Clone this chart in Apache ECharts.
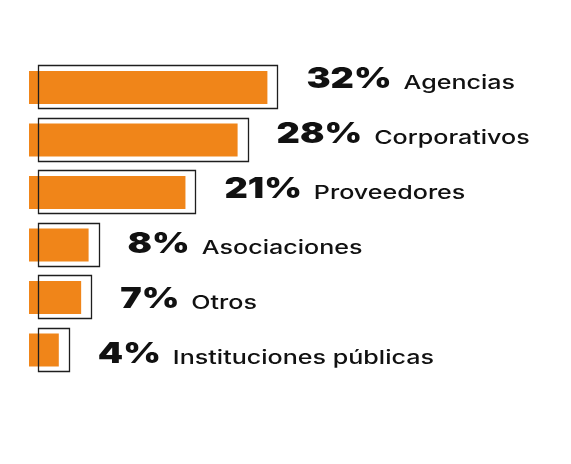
<!DOCTYPE html>
<html>
<head>
<meta charset="utf-8">
<script src="https://cdn.jsdelivr.net/npm/echarts@6/dist/echarts.min.js"></script>
<style>
html,body{margin:0;padding:0;background:#fff;}
#chart{width:571px;height:464px;}
</style>
</head>
<body>
<div id="chart"></div>
<script>
const categories = ['Agencias', 'Corporativos', 'Proveedores', 'Asociaciones', 'Otros', 'Instituciones públicas'];
const values = [32, 28, 21, 8, 7, 4];

const PCT_SIZE = 28, NAME_SIZE = 19;
const PCT_FONT = '900 ' + PCT_SIZE + 'px Inter';
const NAME_FONT = '500 ' + NAME_SIZE + 'px Inter';
const PCT_SCALE = 1.29, NAME_SCALE = 1.32;
const measureCtx = document.createElement('canvas').getContext('2d');
function textWidth(t, font) { measureCtx.font = font; return measureCtx.measureText(t).width; }

const chart = echarts.init(document.getElementById('chart'), null, {renderer: 'canvas'});
chart.setOption({
  animation: false,
  backgroundColor: '#ffffff',
  grid: [
    {left: 29, right: 20.5, top: 61.25, height: 315},
    {left: 29, right: 20.5, top: 52.5, height: 330}
  ],
  xAxis: [
    {type: 'value', min: 0, max: 70, show: false, gridIndex: 0},
    {type: 'value', min: 0, max: 70, show: false, gridIndex: 1}
  ],
  yAxis: [
    {type: 'category', data: categories, inverse: true, show: false, gridIndex: 0},
    {type: 'category', data: categories, inverse: true, show: false, gridIndex: 1}
  ],
  series: [{
    type: 'custom',
    xAxisIndex: 0, yAxisIndex: 0,
    data: values.map((v, i) => [v, i]),
    encode: {x: 0, y: 1},
    renderItem: function (params, api) {
      const v = api.value(0);
      const idx = api.value(1);
      const p0 = api.coord([0, idx]);
      const p1 = api.coord([v, idx]);
      const w = p1[0] - p0[0];
      const cy = p1[1];
      return {
        type: 'group',
        children: [
          {type: 'rect', shape: {x: p0[0], y: cy - 16.5, width: w, height: 33},
           style: {fill: '#F08519'}},
          {type: 'rect', shape: {x: Math.round(p0[0] + 9) + 0.5, y: Math.round(cy - 22.5) + 0.5, width: Math.round(w + 1), height: 43},
           style: {fill: 'none', stroke: '#1e1e1e', lineWidth: 1.3}}
        ]
      };
    }
  }, {
    type: 'custom',
    xAxisIndex: 1, yAxisIndex: 1,
    data: values.map((v, i) => [v, i]),
    encode: {x: 0, y: 1},
    renderItem: function (params, api) {
      const v = api.value(0);
      const idx = api.value(1);
      const p = api.coord([v, idx]);
      const pctText = v + '%';
      const pctW = textWidth(pctText, PCT_FONT) * PCT_SCALE;
      const lx = p[0] + 39;
      const cy = p[1];
      return {
        type: 'group',
        children: [
          {type: 'text', x: lx, y: cy, scaleX: PCT_SCALE,
           style: {text: pctText, font: PCT_FONT, fill: '#111', verticalAlign: 'middle', align: 'left'}},
          {type: 'text', x: lx + pctW + 12, y: cy + 0.3635 * (PCT_SIZE - NAME_SIZE), scaleX: NAME_SCALE,
           style: {text: categories[idx], font: NAME_FONT, fill: '#111', verticalAlign: 'middle', align: 'left'}}
        ]
      };
    }
  }]
});
</script>
</body>
</html>
